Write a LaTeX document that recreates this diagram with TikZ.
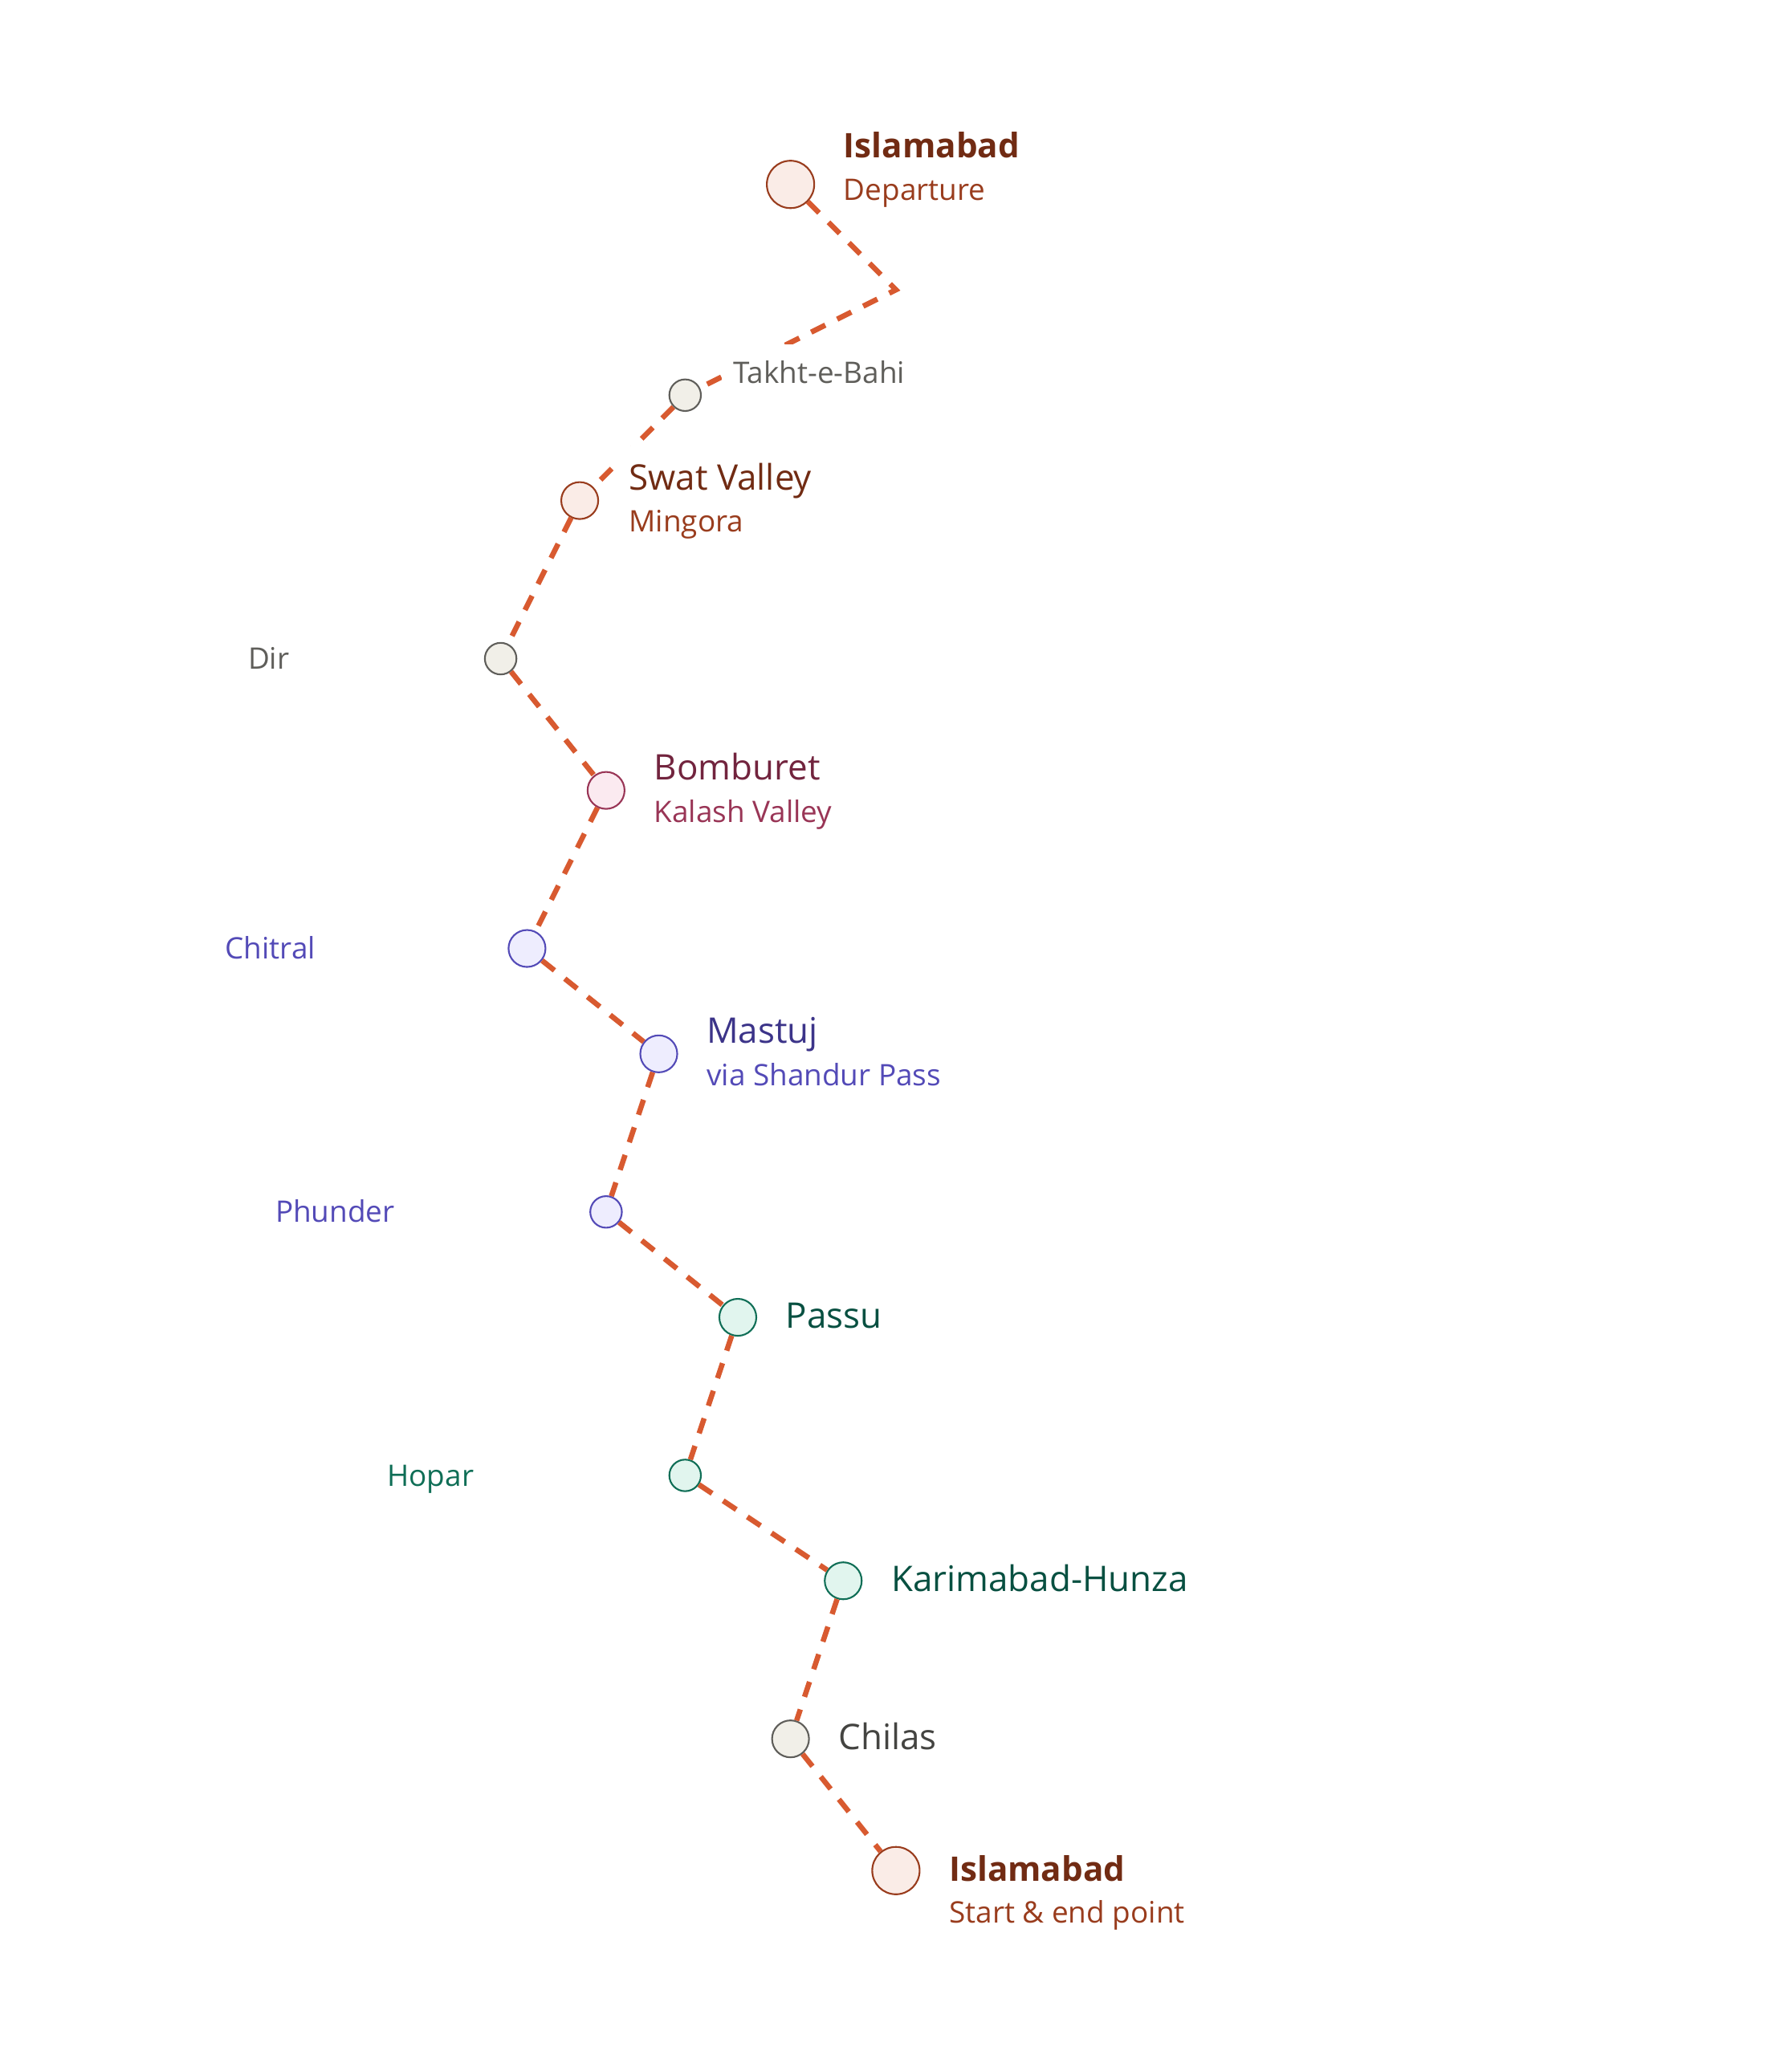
\documentclass[tikz,border=0pt]{standalone}
\usepackage{fontspec}
\setmainfont{Open Sans}
\usepackage{xcolor}
\usepackage{tikz}

\definecolor{coralFill}{HTML}{FAECE7}
\definecolor{coralLine}{HTML}{993C1D}
\definecolor{coralText}{HTML}{712B13}
\definecolor{grayFill}{HTML}{F1EFE8}
\definecolor{grayLine}{HTML}{5F5E5A}
\definecolor{grayText}{HTML}{444441}
\definecolor{pinkFill}{HTML}{FBEAF0}
\definecolor{pinkLine}{HTML}{993556}
\definecolor{pinkText}{HTML}{72243E}
\definecolor{purpleFill}{HTML}{EEEDFE}
\definecolor{purpleLine}{HTML}{534AB7}
\definecolor{purpleText}{HTML}{3C3489}
\definecolor{tealFill}{HTML}{E1F5EE}
\definecolor{tealLine}{HTML}{0F6E56}
\definecolor{tealText}{HTML}{085041}
\definecolor{routeColor}{HTML}{D85A30}

\begin{document}
\begin{tikzpicture}[x=0.032824cm, y=-0.032824cm,
        stop/.style={circle, fill=#1Fill, draw=#1Line, line width=0.6pt, inner sep=0pt},
        dotL/.style={minimum size=16.8pt},
        dotM/.style={minimum size=13.1pt},
        dotS/.style={minimum size=11.2pt},
        route/.style={draw=routeColor, line width=1.87pt, dash pattern=on 5.6pt off 4.7pt},
        placename/.style={anchor=base west, xshift=-4pt, inner xsep=4pt, inner ysep=6pt, fill=white, text=#1Text, font=\fontsize{12.5}{15}\selectfont},
        placenote/.style={anchor=base west, inner sep=0pt, text=#1Line, font=\fontsize{10.5}{13}\selectfont},
        minorname/.style={inner xsep=4pt, inner ysep=6pt, fill=white, text=#1Line, font=\fontsize{10.5}{13}\selectfont},
        sidename/.style={anchor=base east, inner sep=0pt, text=#1Line, font=\fontsize{10.5}{13}\selectfont}]
        \useasboundingbox (0,0) rectangle (680,780);
        % stops
        \node[stop=coral, dotL] (isbA) at (300,70) {};
        \coordinate (bend) at (340,110);
        \node[stop=gray, dotS] (takht) at (260,150) {};
        \node[stop=coral, dotM] (swat) at (220,190) {};
        \node[stop=gray, dotS] (dir) at (190,250) {};
        \node[stop=pink, dotM] (bomb) at (230,300) {};
        \node[stop=purple, dotM] (chitral) at (200,360) {};
        \node[stop=purple, dotM] (mastuj) at (250,400) {};
        \node[stop=purple, dotS] (phunder) at (230,460) {};
        \node[stop=teal, dotM] (passu) at (280,500) {};
        \node[stop=teal, dotS] (hopar) at (260,560) {};
        \node[stop=teal, dotM] (karim) at (320,600) {};
        \node[stop=gray, dotM] (chilas) at (300,660) {};
        \node[stop=coral, dotL] (isbB) at (340,710) {};
        % route
        \draw[route] (isbA) -- (bend) -- (takht) -- (swat) -- (dir) -- (bomb) -- (chitral) -- (mastuj)
            -- (phunder) -- (passu) -- (hopar) -- (karim) -- (chilas) -- (isbB);
        % names
        \node[placename=coral] (isbAname) at (320,60) {\fontsize{12}{15}\selectfont\bfseries Islamabad};
        \node[placenote=coral] (isbAnote) at (320,76) {Departure};
        \node[minorname=gray, anchor=base west, xshift=-4pt] (takhtname) at (278,145.6) {Takht-e-Bahi};
        \node[placename=coral] (swatname) at (238.5,186) {Swat Valley};
        \node[placenote=coral] (swatnote) at (238.5,202) {Mingora};
        \node[sidename=gray] (dirname) at (110,254) {Dir};
        \node[placename=pink] (bombname) at (248,296) {Bomburet};
        \node[placenote=pink] (bombnote) at (248,312) {Kalash Valley};
        \node[sidename=purple] (chitralname) at (120,364) {Chitral};
        \node[placename=purple] (mastujname) at (268,396) {Mastuj};
        \node[placenote=purple] (mastujnote) at (268,412) {via Shandur Pass};
        \node[sidename=purple] (phundername) at (150,464) {Phunder};
        \node[placename=teal] (passuname) at (298,504) {Passu};
        \node[sidename=teal] (hoparname) at (180,564) {Hopar};
        \node[placename=teal] (karimname) at (338,604) {Karimabad-Hunza};
        \node[placename=gray] (chilasname) at (318,664) {Chilas};
        \node[placename=coral] (isbBname) at (360,714) {\fontsize{12}{15}\selectfont\bfseries Islamabad};
        \node[placenote=coral] (isbBnote) at (360,730) {Start \& end point};
    \end{tikzpicture}
\end{document}
